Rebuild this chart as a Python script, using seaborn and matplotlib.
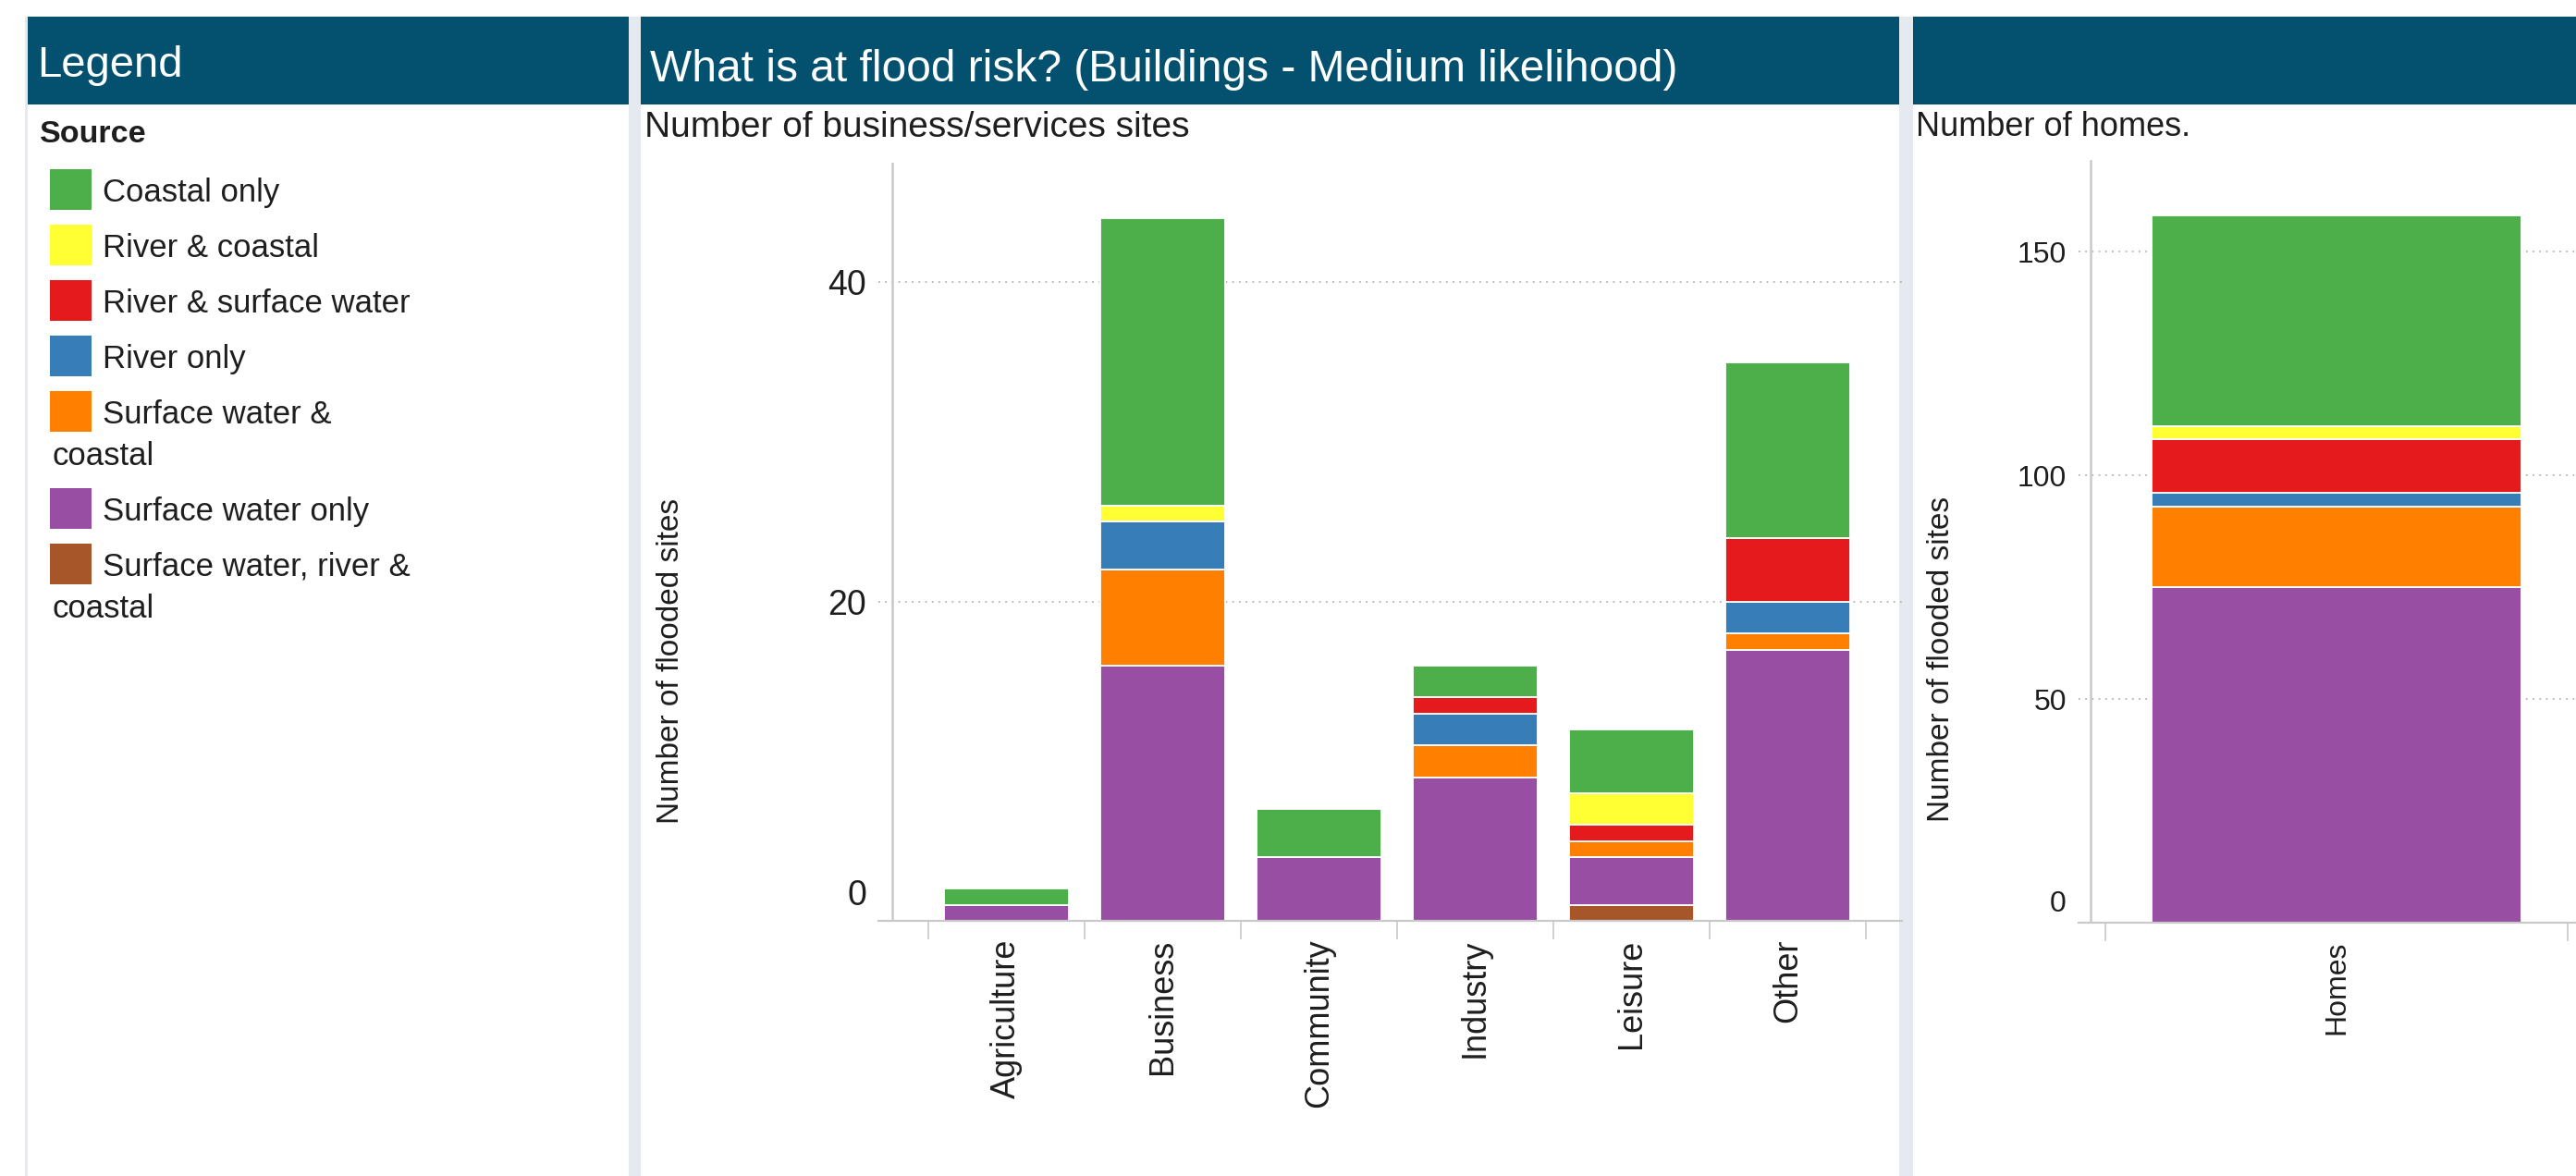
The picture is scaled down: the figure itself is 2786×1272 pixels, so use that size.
import numpy as np
import matplotlib
matplotlib.use("Agg")
import matplotlib.pyplot as plt
from matplotlib.patches import Rectangle
from matplotlib.transforms import ScaledTranslation
import seaborn as sns

# ---- data -------------------------------------------------------------
categories = ["Agriculture", "Business", "Community", "Industry", "Leisure", "Other"]
home_categories = ["Homes"]

sources = [
    "Coastal only",
    "River & coastal",
    "River & surface water",
    "River only",
    "Surface water & coastal",
    "Surface water only",
    "Surface water, river & coastal",
]

# business / services sites per category
coastal_only = [1, 18, 3, 2, 4, 11]
river_and_coastal = [0, 1, 0, 0, 2, 0]
river_and_surface = [0, 0, 0, 1, 1, 4]
river_only = [0, 3, 0, 2, 0, 2]
surface_and_coastal = [0, 6, 0, 2, 1, 1]
surface_only = [1, 16, 4, 9, 3, 17]
surface_river_coastal = [0, 0, 0, 0, 1, 0]

# homes
homes_coastal_only = [47]
homes_river_and_coastal = [3]
homes_river_and_surface = [12]
homes_river_only = [3]
homes_surface_and_coastal = [18]
homes_surface_only = [75]
homes_surface_river_coastal = [0]

sites_ticks = [0, 20, 40]
homes_ticks = [0, 50, 100, 150]

title = "What is at flood risk? (Buildings - Medium likelihood)"
sites_subtitle = "Number of business/services sites"
homes_subtitle = "Number of homes."
y_title = "Number of flooded sites"

# ---- style ------------------------------------------------------------
sns.set_theme(style="white")
plt.rcParams["font.family"] = ["Liberation Sans", "DejaVu Sans"]

set1 = sns.color_palette("Set1", 9)
source_colors = {
    "Coastal only": set1[2],
    "River & coastal": set1[5],
    "River & surface water": set1[0],
    "River only": set1[1],
    "Surface water & coastal": set1[4],
    "Surface water only": set1[3],
    "Surface water, river & coastal": set1[6],
}

HEADER = "#03516F"
STRIP = "#E4EAF0"
AXIS = "#C9C9C9"
GRID = "#B5B5B5"
TEXT = "#1E1E1E"

W, H = 2786, 1272
fig = plt.figure(figsize=(W / 100, H / 100), dpi=100, facecolor="white")


def box(x0, y0, x1, y1):
    """Pixel box (top-left origin) -> figure fraction rect."""
    return [x0 / W, 1 - y1 / H, (x1 - x0) / W, (y1 - y0) / H]


def rect(x0, y0, x1, y1, color, z=0):
    l, b, w, h = box(x0, y0, x1, y1)
    fig.add_artist(Rectangle((l, b), w, h, transform=fig.transFigure,
                             facecolor=color, edgecolor="none", zorder=z))


def ftext(x, y, s, **kw):
    fig.text(x / W, 1 - y / H, s, **kw)


# panel frames
rect(27, 18, 30, H, STRIP)
rect(680, 18, 693, H, STRIP)
rect(2054, 18, 2069, H, STRIP)
rect(30, 18, 680, 113, HEADER, 1)
rect(693, 18, 2054, 113, HEADER, 1)
rect(2069, 18, W, 113, HEADER, 1)

ftext(40, 83, "Legend", color="white", fontsize=34, va="baseline")
ftext(703, 88, title, color="white", fontsize=34.5, va="baseline")
ftext(697, 148, sites_subtitle, color=TEXT, fontsize=28, va="baseline")
ftext(2072, 147, homes_subtitle, color=TEXT, fontsize=26, va="baseline")

# ---- legend -----------------------------------------------------------
ftext(43, 154, "Source", color=TEXT, fontsize=24.5, fontweight="bold", va="baseline")
top = 183
for name in sources:
    rect(54, top, 99, top + 44, source_colors[name], 2)
    if len(name) > 22:
        first, second = name.rsplit(" ", 1)
        ftext(111, top + 35, first, color=TEXT, fontsize=25, va="baseline")
        ftext(56, top + 80, second, color=TEXT, fontsize=25, va="baseline")
        top += 105
    else:
        ftext(111, top + 35, name, color=TEXT, fontsize=25, va="baseline")
        top += 60


# ---- stacked bars -----------------------------------------------------
def stacked(ax, cats, layers):
    bottom = np.zeros(len(cats))
    for name, vals in layers:
        vals = np.asarray(vals, dtype=float)
        sns.barplot(x=cats, y=vals, order=cats, color=source_colors[name],
                    saturation=1, width=0.8, bottom=bottom, errorbar=None,
                    edgecolor="white", linewidth=1.3, ax=ax)
        bottom = bottom + vals


def style_axis(ax, ticks, ymax, xlim, yaxis_x, tick_size, label_size, zero_shift):
    ax.set_facecolor("none")
    ax.set_xlim(*xlim)
    ax.set_ylim(0, ymax)
    for s in ["top", "right", "left"]:
        ax.spines[s].set_visible(False)
    ax.spines["bottom"].set_color(AXIS)
    ax.spines["bottom"].set_linewidth(1.6)
    ax.spines["bottom"].set_zorder(3)
    ax.axvline(yaxis_x, color=AXIS, lw=1.8, zorder=3)
    ax.set_xlabel("")
    ax.set_ylabel("")
    ax.set_yticks(ticks)
    ax.set_yticklabels([str(t) for t in ticks])
    ax.tick_params(axis="y", length=0, pad=9.4, labelsize=tick_size, labelcolor=TEXT)
    n = len(ax.get_xticks())
    ax.set_xticks(np.arange(-0.5, n, 1), minor=True)
    ax.tick_params(axis="x", which="major", length=0, pad=14, labelsize=label_size,
                   labelcolor=TEXT, labelrotation=90)
    ax.tick_params(axis="x", which="minor", length=14.4, width=1.2, color=AXIS,
                   direction="out", bottom=True)
    for lbl in ax.get_xticklabels():
        lbl.set_va("top")
        lbl.set_ha("center")
    ax.grid(False)
    ax.yaxis.grid(True, linestyle=(0, (1, 3)), color=GRID, lw=1.3)
    ax.set_axisbelow(True)
    zero = ax.yaxis.get_major_ticks()[0].label1
    zero.set_transform(zero.get_transform() +
                       ScaledTranslation(0, zero_shift / 100, fig.dpi_scale_trans))


ax1 = fig.add_axes(box(950, 176, 2057, 996))
stacked(ax1, categories, [
    ("Surface water, river & coastal", surface_river_coastal),
    ("Surface water only", surface_only),
    ("Surface water & coastal", surface_and_coastal),
    ("River only", river_only),
    ("River & surface water", river_and_surface),
    ("River & coastal", river_and_coastal),
    ("Coastal only", coastal_only),
])
style_axis(ax1, sites_ticks, 47.5, (-0.82, 5.73), -0.73, 27, 26, 31)

ax2 = fig.add_axes(box(2248, 173, 2800, 998))
stacked(ax2, home_categories, [
    ("Surface water, river & coastal", homes_surface_river_coastal),
    ("Surface water only", homes_surface_only),
    ("Surface water & coastal", homes_surface_and_coastal),
    ("River only", homes_river_only),
    ("River & surface water", homes_river_and_surface),
    ("River & coastal", homes_river_and_coastal),
    ("Coastal only", homes_coastal_only),
])
style_axis(ax2, homes_ticks, 170.5, (-0.558, 0.546), -0.532, 23, 23, 24)

ftext(725, 715, y_title, color=TEXT, fontsize=24, rotation=90, ha="center", va="center")
ftext(2099, 713, y_title, color=TEXT, fontsize=24, rotation=90, ha="center", va="center")

fig.savefig("out.png", dpi=100, facecolor="white")
